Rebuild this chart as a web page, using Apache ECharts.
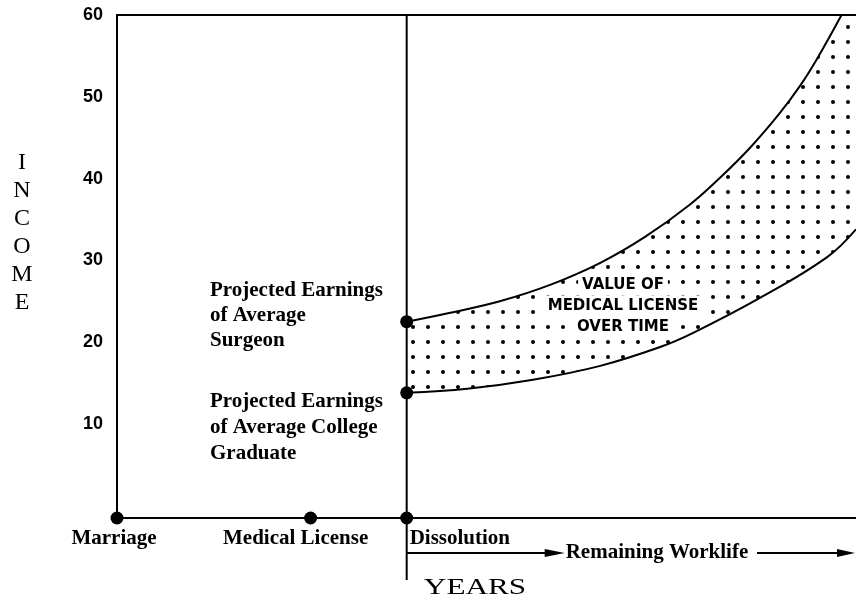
<!DOCTYPE html>
<html>
<head>
<meta charset="utf-8">
<script src="https://cdn.jsdelivr.net/npm/echarts@6/dist/echarts.min.js"></script>
<style>
  html, body { margin: 0; padding: 0; background: #fff; }
  #main { width: 856px; height: 609px; }
</style>
</head>
<body>
<div id="main"></div>
<script>
// y axis tick labels (income)
const yTicks = [10, 20, 30, 40, 50, 60];

// events along the years axis
const eventNames = ['Marriage', 'Medical License', 'Dissolution'];
const eventX = [0, 26.2, 39.2];

// projected earnings of average surgeon
const surgeonX = [39.2, 45.1, 51.8, 58.6, 65.4, 71.5, 77.5, 81.6, 85.7, 89.6, 92.4, 94.7, 97.8, 100];
const surgeonY = [22.5, 23.6, 25.0, 27.0, 29.7, 32.9, 36.8, 40.1, 43.8, 47.9, 51.3, 54.6, 59.6, 63.5];

// projected earnings of average college graduate
const gradX = [39.2, 47.4, 56.3, 65.4, 73.5, 77.9, 87.0, 96.1, 100];
const gradY = [13.8, 14.3, 15.4, 17.1, 19.4, 21.1, 25.4, 30.4, 33.8];

const yMin = -1.5;
const serif = 'Liberation Serif';

// dotted fill
const tile = document.createElement('canvas');
tile.width = 15;
tile.height = 15;
const tctx = tile.getContext('2d');
tctx.fillStyle = '#000';
tctx.beginPath();
tctx.arc(8, 12, 2, 0, Math.PI * 2);
tctx.fill();

const zip = (xs, ys) => xs.map((x, i) => [x, ys[i]]);

const labelOffsets = [[-3, 0], [-15, 0], [3, 0]];
const eventData = eventX.map((x, i) => ({
  value: [x, yMin],
  label: {
    show: true,
    formatter: eventNames[i],
    position: 'bottom',
    distance: 4,
    align: i === 2 ? 'left' : 'center',
    offset: labelOffsets[i],
    color: '#000',
    fontFamily: serif,
    fontWeight: 'bold',
    fontSize: 21
  }
}));

const blackLine = { color: '#000', width: 2 };

const chart = echarts.init(document.getElementById('main'));
chart.setOption({
  animation: false,
  grid: { left: 117, top: 15, right: 0, bottom: 91 },
  xAxis: [
    {
      type: 'value', min: 0, max: 100,
      axisLine: { show: true, onZero: false, lineStyle: blackLine },
      axisTick: { show: false }, axisLabel: { show: false }, splitLine: { show: false }
    },
    {
      type: 'value', min: 0, max: 100, position: 'top',
      axisLine: { show: true, onZero: false, lineStyle: blackLine },
      axisTick: { show: false }, axisLabel: { show: false }, splitLine: { show: false }
    }
  ],
  yAxis: {
    type: 'value', min: yMin, max: 60,
    axisLine: { show: true, onZero: false, lineStyle: blackLine },
    axisTick: { show: false },
    splitLine: { show: false },
    axisLabel: {
      customValues: yTicks,
      color: '#000',
      fontFamily: 'Liberation Sans',
      fontWeight: 'bold',
      fontSize: 18,
      margin: 14
    }
  },
  series: [
    {
      name: 'Surgeon',
      type: 'line',
      data: zip(surgeonX, surgeonY),
      smooth: 0.4,
      symbol: 'none',
      lineStyle: blackLine,
      areaStyle: { color: { image: tile, repeat: 'repeat' }, opacity: 1, origin: 2 },
      z: 2
    },
    {
      name: 'College Graduate',
      type: 'line',
      data: zip(gradX, gradY),
      smooth: 0.4,
      symbol: 'none',
      lineStyle: blackLine,
      areaStyle: { color: '#fff', opacity: 1, origin: 0 },
      z: 3
    },
    {
      type: 'scatter',
      clip: false,
      symbolSize: 13,
      itemStyle: { color: '#000', opacity: 1 },
      data: eventData.concat([
        { value: [eventX[2], surgeonY[0]] },
        { value: [eventX[2], gradY[0]] }
      ]),
      z: 20
    }
  ]
});

// annotations placed from the axis positions
const topPt = chart.convertToPixel({ xAxisIndex: 0, yAxisIndex: 0 }, [eventX[2], 60]);
const basePt = chart.convertToPixel({ xAxisIndex: 0, yAxisIndex: 0 }, [eventX[2], yMin]);
const dx = topPt[0];
const ay = basePt[1] + 35;
const serifBold = 'bold 21px "' + serif + '"';
const boxFont = 'bold 15px "DejaVu Sans"';

const textEl = (x, y, text, font, align, extra) => Object.assign({
  type: 'text', x: x, y: y, z: 40,
  style: { text: text, font: font, fill: '#000', align: align || 'left', verticalAlign: 'middle' }
}, extra || {});

const boxText = (y, text) => ({
  type: 'text', x: 623, y: y, z: 40,
  style: { text: text, font: boxFont, fill: '#000', align: 'center', verticalAlign: 'middle', backgroundColor: '#fff', padding: [3, 4] }
});

chart.setOption({
  graphic: [
    { type: 'line', z: 30, shape: { x1: dx, y1: topPt[1], x2: dx, y2: basePt[1] + 62 }, style: { stroke: '#000', lineWidth: 2 } },
    { type: 'line', z: 30, shape: { x1: dx, y1: ay, x2: dx + 145, y2: ay }, style: { stroke: '#000', lineWidth: 2 } },
    { type: 'polygon', z: 30, shape: { points: [[dx + 138, ay - 4], [dx + 158, ay], [dx + 138, ay + 4]] }, style: { fill: '#000' } },
    textEl(dx + 159, ay, 'Remaining Worklife', serifBold),
    { type: 'line', z: 30, shape: { x1: 757, y1: ay, x2: 842, y2: ay }, style: { stroke: '#000', lineWidth: 2 } },
    { type: 'polygon', z: 30, shape: { points: [[837, ay - 4], [855, ay], [837, ay + 4]] }, style: { fill: '#000' } },
    textEl(475, 588, 'YEARS', '24px "' + serif + '"', 'center', { scaleX: 1.3 }),
    {
      type: 'text', x: 22, y: 149, z: 40,
      style: { text: 'I\nN\nC\nO\nM\nE', font: '24px "' + serif + '"', fill: '#000', align: 'center', lineHeight: 28 }
    },
    {
      type: 'text', x: 210, y: 278, z: 40,
      style: { text: 'Projected Earnings\nof Average\nSurgeon', font: serifBold, fill: '#000', lineHeight: 25 }
    },
    {
      type: 'text', x: 210, y: 389, z: 40,
      style: { text: 'Projected Earnings\nof Average College\nGraduate', font: serifBold, fill: '#000', lineHeight: 26 }
    },
    boxText(285, 'VALUE OF'),
    boxText(306, 'MEDICAL LICENSE'),
    boxText(327, 'OVER TIME')
  ]
});
</script>
</body>
</html>
